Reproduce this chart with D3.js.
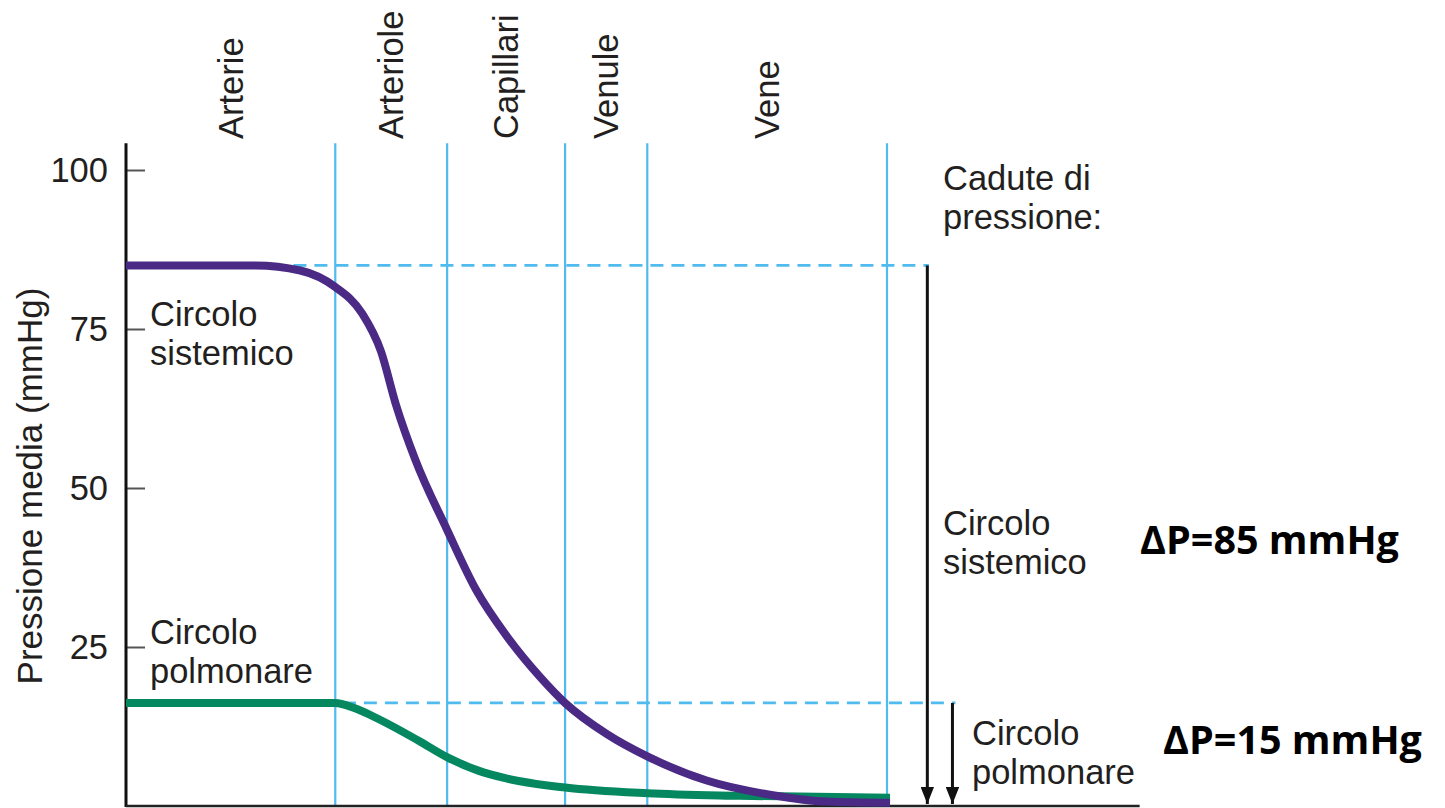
<!DOCTYPE html>
<html>
<head>
<meta charset="utf-8">
<script src="https://cdn.jsdelivr.net/npm/d3@7"></script>
<style>
  html, body { margin: 0; padding: 0; background: #ffffff; }
  svg { display: block; }
  text { font-family: "Liberation Sans", Arial, Helvetica, sans-serif; fill: #231f20; }
</style>
</head>
<body>
<svg id="chart" width="1445" height="808"></svg>
<script>
// ---------------- DATA ----------------
const categories = ["Arterie", "Arteriole", "Capillari", "Venule", "Vene"];
const boundaries = [0, 27.5, 42.2, 57.7, 68.5, 100];   // vessel segment limits (x units)
const yTicks = [25, 50, 75, 100];

// Circolo sistemico (mean pressure, mmHg)
const sysX = [0, 17, 22.9, 27.5, 31, 33.5, 35.5, 38, 42.2, 46, 50.1, 54.4, 57.7, 63.2, 68.5, 76.3, 85, 92, 100.4];
const sysP = [85, 85, 84.2, 81.6, 77.5, 71.5, 63, 54.5, 43.4, 34, 26.6, 20.3, 16.2, 11.3, 7.8, 4.0, 1.7, 0.7, 0.5];

// Circolo polmonare (mean pressure, mmHg)
const polX = [0, 27.5, 30, 33.3, 38.4, 42.3, 46.2, 50.1, 57.7, 68.5, 80.7, 100.4];
const polP = [16.2, 16.2, 15.4, 13.6, 10.3, 7.6, 5.6, 4.3, 2.9, 2.0, 1.6, 1.3];

const dropSys = 85;
const dropPol = 16.2;
const dropLabels = ["\u0394P=85 mmHg", "\u0394P=15 mmHg"];

// ---------------- CHART ----------------
const svg = d3.select("#chart");
const x = d3.scaleLinear().domain([0, 100]).range([126, 887]);
const y = d3.scaleLinear().domain([0, 100]).range([806, 170]);
const yTop = 104.2;
const FS = 34.5;

const purple = "#4b2a86", green = "#05875f", blue = "#4fbbee";

// vertical segment lines
svg.append("g").selectAll("line")
  .data(boundaries.slice(1))
  .join("line")
  .attr("x1", d => x(d)).attr("x2", d => x(d))
  .attr("y1", y(yTop)).attr("y2", y(0))
  .attr("stroke", blue).attr("stroke-width", 2.2);

// dashed reference lines
svg.append("line")
  .attr("x1", x(22)).attr("x2", x(105.5))
  .attr("y1", y(dropSys)).attr("y2", y(dropSys))
  .attr("stroke", blue).attr("stroke-width", 2.8).attr("stroke-dasharray", "13,8");
svg.append("line")
  .attr("x1", x(28.5)).attr("x2", x(109))
  .attr("y1", y(dropPol)).attr("y2", y(dropPol))
  .attr("stroke", blue).attr("stroke-width", 2.8).attr("stroke-dasharray", "13,8");

// y axis
const yAxis = d3.axisLeft(y).tickValues(yTicks).tickSize(-19).tickSizeOuter(0).tickPadding(18);
const gy = svg.append("g").attr("transform", `translate(${x(0)},0)`).call(yAxis);
gy.select(".domain").remove();
gy.selectAll(".tick line").attr("stroke", "#555").attr("stroke-width", 2);
gy.selectAll(".tick text").attr("font-size", FS).attr("fill", "#231f20")
  .style("font-family", '"Liberation Sans", Arial, sans-serif');

svg.append("line")
  .attr("x1", x(0)).attr("x2", x(0)).attr("y1", y(yTop)).attr("y2", y(0) + 1)
  .attr("stroke", "#111").attr("stroke-width", 3);
svg.append("line")
  .attr("x1", x(0)).attr("x2", x(133.2)).attr("y1", y(0)).attr("y2", y(0))
  .attr("stroke", "#222").attr("stroke-width", 2.5);

// curves
const line = d3.line().x(d => x(d[0])).y(d => y(d[1])).curve(d3.curveMonotoneX);
svg.append("path").datum(d3.zip(polX, polP))
  .attr("d", line).attr("fill", "none").attr("stroke", green).attr("stroke-width", 8);
svg.append("path").datum(d3.zip(sysX, sysP))
  .attr("d", line).attr("fill", "none").attr("stroke", purple).attr("stroke-width", 8);

// category labels (rotated)
svg.append("g").selectAll("text")
  .data(categories)
  .join("text")
  .attr("transform", (d, i) => `translate(${x((boundaries[i] + boundaries[i + 1]) / 2)},139) rotate(-90)`)
  .attr("dy", "0.35em")
  .attr("font-size", FS)
  .text(d => d);

// y title
svg.append("text")
  .attr("transform", `translate(30,${y(50) - 2}) rotate(-90)`)
  .attr("text-anchor", "middle").attr("dy", "0.35em")
  .attr("font-size", 35)
  .text("Pressione media (mmHg)");

// arrows
const defs = svg.append("defs");
defs.append("marker").attr("id", "arr").attr("viewBox", "0 0 10 10")
  .attr("refX", 10).attr("refY", 5).attr("markerWidth", 5.7).attr("markerHeight", 4.5)
  .attr("markerUnits", "strokeWidth").attr("orient", "auto")
  .attr("preserveAspectRatio", "none")
  .append("path").attr("d", "M0,0 L10,5 L0,10 Z").attr("fill", "#111");

svg.append("line")
  .attr("x1", x(105.3)).attr("x2", x(105.3)).attr("y1", y(dropSys)).attr("y2", y(0) - 2)
  .attr("stroke", "#111").attr("stroke-width", 3).attr("marker-end", "url(#arr)");
svg.append("line")
  .attr("x1", x(108.6)).attr("x2", x(108.6)).attr("y1", y(dropPol)).attr("y2", y(0) - 2)
  .attr("stroke", "#111").attr("stroke-width", 3).attr("marker-end", "url(#arr)");

// text blocks
function block(tx, ty, lines, size) {
  const t = svg.append("text").attr("x", tx).attr("y", ty).attr("font-size", size);
  lines.forEach((l, i) => t.append("tspan").attr("x", tx).attr("dy", i ? "1.14em" : 0).text(l));
}
block(150, 326, ["Circolo", "sistemico"], FS);
block(150, 644, ["Circolo", "polmonare"], FS);
block(943, 190, ["Cadute di", "pressione:"], FS);
block(943, 535, ["Circolo", "sistemico"], FS);
block(972, 745, ["Circolo", "polmonare"], FS);

svg.append("text").attr("x", 1140).attr("y", 554)
  .attr("font-size", 39.5).attr("font-weight", "bold")
  .style("font-family", '"Open Sans", "Noto Sans", sans-serif').style("fill", "#000")
  .text(dropLabels[0]);
svg.append("text").attr("x", 1163).attr("y", 754)
  .attr("font-size", 39.5).attr("font-weight", "bold")
  .style("font-family", '"Open Sans", "Noto Sans", sans-serif').style("fill", "#000")
  .text(dropLabels[1]);
</script>
</body>
</html>
